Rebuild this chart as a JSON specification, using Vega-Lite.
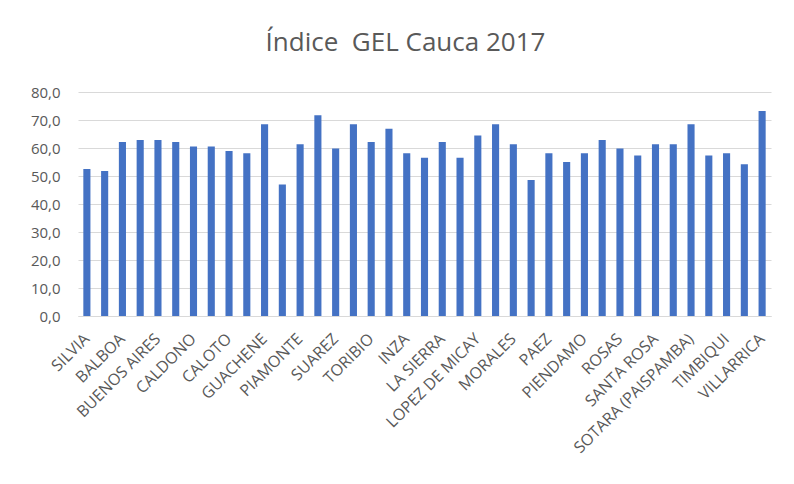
{
  "$schema": "https://vega.github.io/schema/vega-lite/v6.json",
  "width": 693,
  "height": 224,
  "autosize": {"type": "none"},
  "padding": {"left": 78, "top": 92, "right": 23, "bottom": 168},
  "background": "white",
  "title": {
    "text": "Índice \u00a0GEL Cauca 2017",
    "font": "Open Sans",
    "fontSize": 26,
    "fontWeight": "normal",
    "color": "#595959",
    "anchor": "middle",
    "dx": -19,
    "offset": 29
  },
  "data": {
    "values": [
      {"municipio": "SILVIA", "indice": 52.5},
      {"municipio": "ALMAGUER", "indice": 51.8},
      {"municipio": "BALBOA", "indice": 62.1},
      {"municipio": "ARGELIA", "indice": 62.9},
      {"municipio": "BUENOS AIRES", "indice": 62.9},
      {"municipio": "CAJIBIO", "indice": 62.1},
      {"municipio": "CALDONO", "indice": 60.5},
      {"municipio": "BOLIVAR", "indice": 60.5},
      {"municipio": "CALOTO", "indice": 58.9},
      {"municipio": "CORINTO", "indice": 58.1},
      {"municipio": "GUACHENE", "indice": 68.5},
      {"municipio": "PADILLA", "indice": 47.0},
      {"municipio": "PIAMONTE", "indice": 61.3},
      {"municipio": "PUERTO TEJADA", "indice": 71.7},
      {"municipio": "SUAREZ", "indice": 59.8},
      {"municipio": "JAMBALO", "indice": 68.5},
      {"municipio": "TORIBIO", "indice": 62.1},
      {"municipio": "TOTORO", "indice": 66.9},
      {"municipio": "INZA", "indice": 58.1},
      {"municipio": "PURACE", "indice": 56.5},
      {"municipio": "LA SIERRA", "indice": 62.1},
      {"municipio": "GUAPI", "indice": 56.5},
      {"municipio": "LOPEZ DE MICAY", "indice": 64.5},
      {"municipio": "MERCADERES", "indice": 68.5},
      {"municipio": "MORALES", "indice": 61.3},
      {"municipio": "PATIA", "indice": 48.6},
      {"municipio": "PAEZ", "indice": 58.1},
      {"municipio": "EL TAMBO", "indice": 55.0},
      {"municipio": "PIENDAMO", "indice": 58.1},
      {"municipio": "POPAYAN", "indice": 62.9},
      {"municipio": "ROSAS", "indice": 59.8},
      {"municipio": "SAN SEBASTIAN", "indice": 57.3},
      {"municipio": "SANTA ROSA", "indice": 61.3},
      {"municipio": "SANTANDER DE QUILICHAO", "indice": 61.3},
      {"municipio": "SOTARA (PAISPAMBA)", "indice": 68.5},
      {"municipio": "SUCRE", "indice": 57.3},
      {"municipio": "TIMBIQUI", "indice": 58.1},
      {"municipio": "TIMBIO", "indice": 54.2},
      {"municipio": "VILLARRICA", "indice": 73.2}
    ]
  },
  "mark": {"type": "bar", "color": "#4472C4"},
  "encoding": {
    "x": {
      "field": "municipio",
      "type": "nominal",
      "sort": null,
      "title": null,
      "scale": {"paddingInner": 0.6, "paddingOuter": 0.3},
      "axis": {
        "values": ["SILVIA", "BALBOA", "BUENOS AIRES", "CALDONO", "CALOTO", "GUACHENE", "PIAMONTE", "SUAREZ", "TORIBIO", "INZA", "LA SIERRA", "LOPEZ DE MICAY", "MORALES", "PAEZ", "PIENDAMO", "ROSAS", "SANTA ROSA", "SOTARA (PAISPAMBA)", "TIMBIQUI", "VILLARRICA"],
        "labelAngle": -45,
        "labelAlign": "right",
        "labelBaseline": "middle",
        "labelFont": "Open Sans",
        "labelFontSize": 16,
        "labelColor": "#595959",
        "labelPadding": 20,
        "labelOverlap": false,
        "ticks": false,
        "domainColor": "#d9d9d9",
        "grid": false
      }
    },
    "y": {
      "field": "indice",
      "type": "quantitative",
      "title": null,
      "scale": {"domain": [0, 80], "nice": false},
      "axis": {
        "values": [0, 10, 20, 30, 40, 50, 60, 70, 80],
        "labelExpr": "replace(format(datum.value, '.1f'), '.', ',')",
        "labelFont": "Open Sans",
        "labelFontSize": 15,
        "labelColor": "#595959",
        "labelPadding": 18,
        "ticks": false,
        "domain": false,
        "gridColor": "#d9d9d9",
        "gridWidth": 1
      }
    }
  },
  "config": {"view": {"stroke": null}}
}
